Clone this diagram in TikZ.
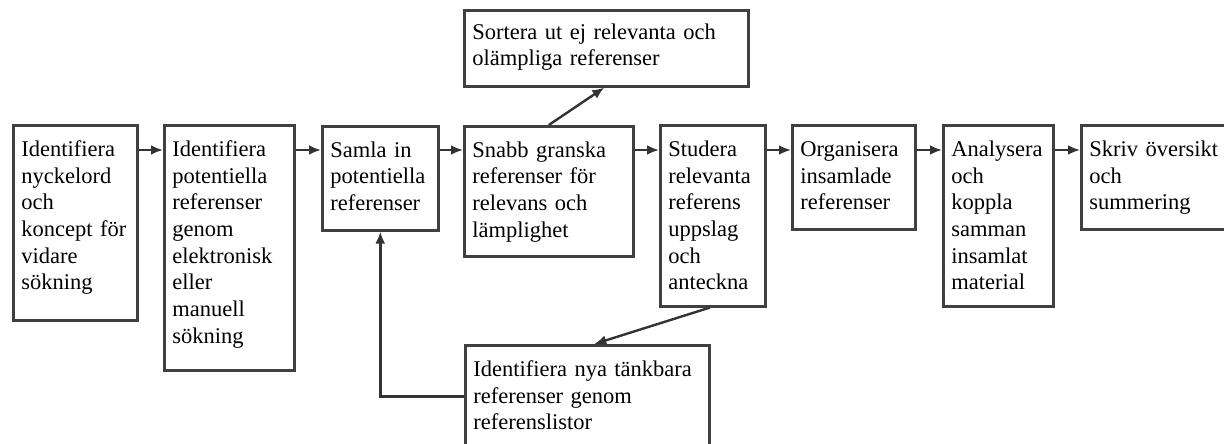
\documentclass[tikz,border=0pt]{standalone}
\usepackage{fontspec}
\setmainfont{Liberation Serif}
\usetikzlibrary{arrows.meta}
\usetikzlibrary{positioning}

\tikzset{
	stepbox/.style={draw=black!75, line width=2.6pt, rectangle, anchor=north west, align=left,
		inner xsep=8pt, inner ysep=0pt, text height=31pt,
		font=\fontsize{22.5}{26.7}\selectfont},
	flow/.style={-{Latex[length=12pt,width=10pt]}, line width=2.4pt, black!80}
}

\begin{document}
\begin{tikzpicture}[x=1pt,y=-1pt]
		\useasboundingbox (0,0) rectangle (1224,444);
		
		% main row
		\node [stepbox, text width=108pt, text depth=164pt] (kw) at (12,124) {Identifiera\\nyckelord\\och\\koncept för\\vidare\\sökning};
		\node [stepbox, text width=114pt, text depth=214pt] (pot) at (163,124) {Identifiera\\potentiella\\referenser\\genom\\elektronisk\\eller\\manuell\\sökning};
		\node [stepbox, text width=100pt, text depth=73pt] (samla) at (321,125) {Samla in\\potentiella\\referenser};
		\node [stepbox, text width=153pt, text depth=99pt] (snabb) at (463,125) {Snabb granska\\referenser för\\relevans och\\lämplighet};
		\node [stepbox, text width=89pt, text depth=150pt] (studera) at (659,124) {Studera\\relevanta\\referens\\uppslag\\och\\anteckna};
		\node [stepbox, text width=107pt, text depth=73pt] (org) at (791,124) {Organisera\\insamlade\\referenser};
		\node [stepbox, text width=94pt, text depth=150pt] (analys) at (942,124) {Analysera\\och\\koppla\\samman\\insamlat\\material};
		\node [stepbox, text width=130pt, text depth=73pt] (skriv) at (1080,124) {Skriv översikt\\och\\summering};
		
		% side steps
		\node [stepbox, text width=268pt, text height=29pt, text depth=47pt] (sortera) at (463,9) {Sortera~ut~ej~relevanta~och\\olämpliga~referenser};
		\node [stepbox, text width=228pt, text depth=71pt] (nya) at (464,344) {Identifiera~nya~tänkbara\\referenser genom\\referenslistor};
		
		\draw [flow] ([yshift=-26pt]kw.north east) -- ([yshift=-26pt]pot.north west);
		\draw [flow] ([yshift=-26pt]pot.north east) -- ([yshift=-25pt]samla.north west);
		\draw [flow] ([yshift=-25pt]samla.north east) -- ([yshift=-25pt]snabb.north west);
		\draw [flow] ([yshift=-25pt]snabb.north east) -- ([yshift=-26pt]studera.north west);
		\draw [flow] ([yshift=-26pt]studera.north east) -- ([yshift=-26pt]org.north west);
		\draw [flow] ([yshift=-26pt]org.north east) -- ([yshift=-26pt]analys.north west);
		\draw [flow] ([yshift=-26pt]analys.north east) -- ([yshift=-26pt]skriv.north west);
		
		\draw [flow] (snabb.north) -- ([xshift=-2pt]sortera.south);
		\draw [flow] ([xshift=-3pt]studera.south) -- ([xshift=7pt]nya.north);
		\draw [flow] (nya.west) -| (samla.south);
	\end{tikzpicture}
\end{document}
